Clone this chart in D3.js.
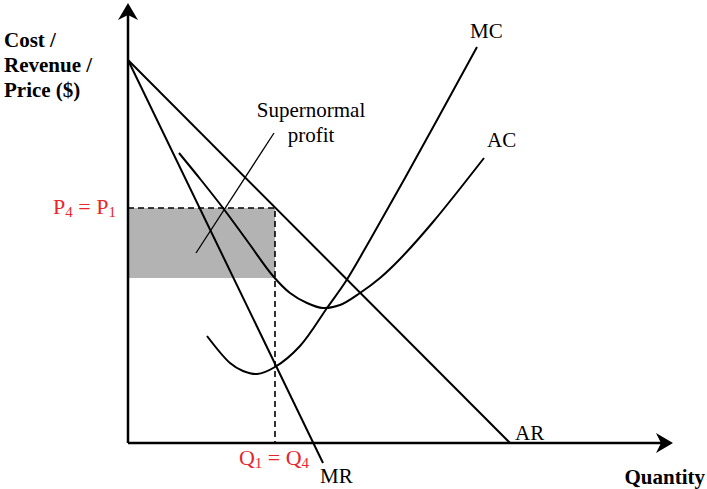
<!DOCTYPE html>
<html><head><meta charset="utf-8">
<script src="https://cdn.jsdelivr.net/npm/d3@7"></script>
<style>body{margin:0;background:#fff}svg{display:block}text{font-family:"Liberation Serif","DejaVu Serif",serif}</style>
</head><body>
<script>
// Data (quantity, price units)
const arLine = [[0, 95.75], [95.5, 0]];
const mrLine = [[0, 95.75], [48.75, -5]];
const acCurve = [[12.75, 72.5], [18.25, 65.75], [23.75, 58.75], [30, 50.25], [36.25, 41.75], [40.5, 37.5], [44.75, 35], [48.75, 33.75], [53, 34.5], [58, 37.5], [63, 41.25], [68, 46], [76.25, 55.25], [89, 71.25]];
const mcCurve = [[19.75, 26.75], [25.5, 20], [28.75, 18], [32.25, 17.25], [36.75, 19], [43, 24.25], [49.75, 33.75], [54.5, 40.5], [60.5, 50.75], [69.25, 66.25], [87.25, 99]];
const equilibrium = {q: 36.75, p: 58.75, ac: 41.25};
const curveLabels = [["MC", 85.5, 101.25], ["AC", 89.75, 74], ["AR", 96.75, 0.75], ["MR", 48, -10]];
const yTitle = ["Cost /", "Revenue /", "Price ($)"];
const xTitle = "Quantity";
const profitLabel = ["Supernormal", "profit"];

const W = 707, H = 489;
const svg = d3.select("body").append("svg").attr("width", W).attr("height", H);
const x = d3.scaleLinear().domain([0, 100]).range([128, 528]);
const y = d3.scaleLinear().domain([0, 100]).range([443, 43]);

// shaded profit
svg.append("rect").attr("x", x(0)).attr("y", y(equilibrium.p))
  .attr("width", x(equilibrium.q) - x(0)).attr("height", y(equilibrium.ac) - y(equilibrium.p))
  .attr("fill", "#b3b3b3");

// dashed lines
svg.append("path").attr("d", `M${x(0)},${y(equilibrium.p)}H${x(equilibrium.q)}V${y(0)}`)
  .attr("fill", "none").attr("stroke", "#000").attr("stroke-width", 1.6).attr("stroke-dasharray", "6,4");

const line = d3.line().x(d => x(d[0])).y(d => y(d[1]));
const curve = d3.line().x(d => x(d[0])).y(d => y(d[1])).curve(d3.curveCatmullRom.alpha(0.5));
[arLine, mrLine].forEach(d => svg.append("path").attr("d", line(d)).attr("fill", "none").attr("stroke", "#000").attr("stroke-width", 2));
[acCurve, mcCurve].forEach(d => svg.append("path").attr("d", curve(d)).attr("fill", "none").attr("stroke", "#000").attr("stroke-width", 2));

// pointer line
svg.append("line").attr("x1", 274).attr("y1", 133).attr("x2", 196).attr("y2", 253).attr("stroke", "#000").attr("stroke-width", 1.3);

// axes
svg.append("line").attr("x1", x(0)).attr("y1", y(0)).attr("x2", x(0)).attr("y2", 12).attr("stroke", "#000").attr("stroke-width", 2.5);
svg.append("line").attr("x1", x(0)).attr("y1", y(0)).attr("x2", 662).attr("y2", y(0)).attr("stroke", "#000").attr("stroke-width", 2.5);
svg.append("path").attr("d", `M${x(0)},3L${x(0)+10},20L${x(0)},15L${x(0)-10},20Z`).attr("fill", "#000");
svg.append("path").attr("d", `M673,${y(0)}L656,${y(0)-10}L661,${y(0)}L656,${y(0)+10}Z`).attr("fill", "#000");

// labels
curveLabels.forEach(([t, q, p]) => svg.append("text").attr("x", x(q)).attr("y", y(p)).attr("font-size", 21).text(t));
yTitle.forEach((t, i) => svg.append("text").attr("x", 4).attr("y", 47 + i * 25).attr("font-size", 21).attr("font-weight", "bold").text(t));
svg.append("text").attr("x", 705).attr("y", 484).attr("text-anchor", "end").attr("font-size", 21).attr("font-weight", "bold").text(xTitle);
profitLabel.forEach((t, i) => svg.append("text").attr("x", 311).attr("y", 117 + i * 25).attr("text-anchor", "middle").attr("font-size", 21).text(t));

function subLabel(xp, yp, a, as, b, bs, anchor) {
  const t = svg.append("text").attr("x", xp).attr("y", yp).attr("font-size", 22).attr("fill", "#e8262b").attr("text-anchor", anchor);
  t.append("tspan").text(a);
  t.append("tspan").attr("font-size", 15).attr("dy", 3).text(as);
  t.append("tspan").attr("dy", -3).text(" = " + b);
  t.append("tspan").attr("font-size", 15).attr("dy", 3).text(bs);
}
subLabel(116, 214, "P", "4", "P", "1", "end");
subLabel(274, 465, "Q", "1", "Q", "4", "middle");
</script>
</body></html>
